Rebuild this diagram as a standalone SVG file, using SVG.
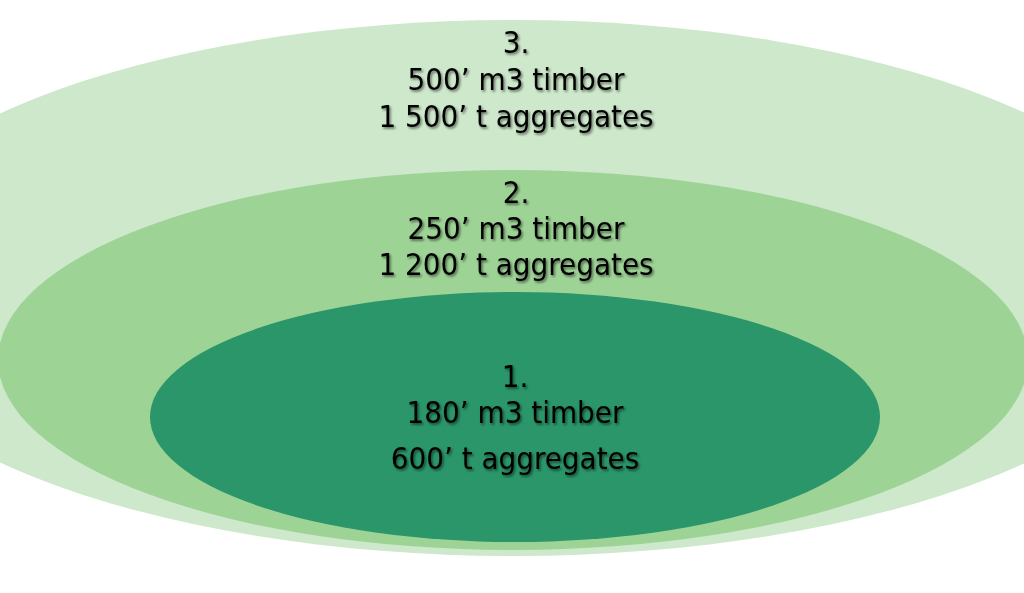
<svg xmlns="http://www.w3.org/2000/svg" width="1024" height="593" viewBox="0 0 1024 593">
<defs>
<filter id="sh" x="-10%" y="-30%" width="120%" height="160%">
<feDropShadow dx="1.5" dy="1.8" stdDeviation="1.2" flood-color="#000" flood-opacity="0.5"/>
</filter>
</defs>
<style>
.lbl{font-family:"DejaVu Sans Condensed","DejaVu Sans",sans-serif;font-stretch:condensed;font-size:31px;fill:#000;text-anchor:middle;filter:url(#sh)}
</style>
<rect width="1024" height="593" fill="#fff"/>
<g id="ring3">
<ellipse cx="513" cy="288" rx="676" ry="268" fill="#cde8ca"/>
<text class="lbl" x="516" y="53">3.</text>
<text class="lbl" x="516" y="90">500’ m3 timber</text>
<text class="lbl" x="516" y="127">1 500’ t aggregates</text>
</g>
<g id="ring2">
<ellipse cx="513" cy="360" rx="515" ry="190" fill="#9ed396"/>
<text class="lbl" x="516" y="203">2.</text>
<text class="lbl" x="516" y="239">250’ m3 timber</text>
<text class="lbl" x="516" y="275">1 200’ t aggregates</text>
</g>
<g id="ring1">
<ellipse cx="515" cy="417" rx="365" ry="125" fill="#2a9669"/>
<text class="lbl" x="515" y="387">1.</text>
<text class="lbl" x="515" y="423">180’ m3 timber</text>
<text class="lbl" x="515" y="469">600’ t aggregates</text>
</g>
<g id="connectors"/>
</svg>
